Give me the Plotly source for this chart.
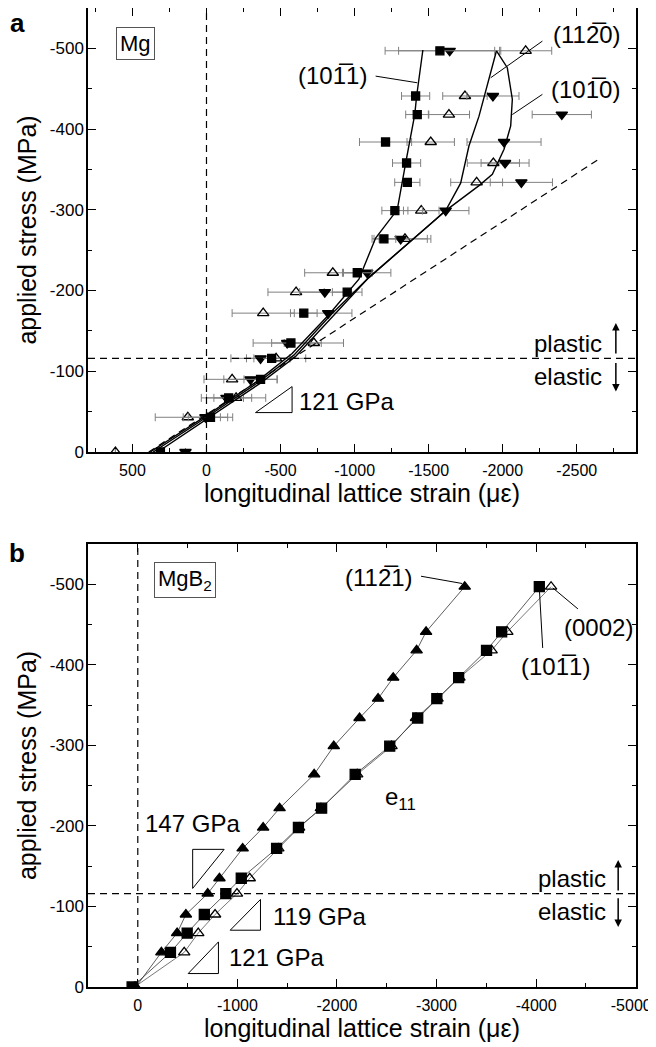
import plotly.graph_objects as go

# ---------------- data ----------------
STRESS = [0, -43, -67, -90, -116, -135, -172, -198, -222, -264, -299, -334, -358, -384, -418, -441, -497]

# panel a (Mg) lattice strains (micro-strain) and error bars
MG_1011_STRAIN = [311, -27, -150, -365, -440, -570, -657, -950, -1018, -1198, -1272, -1356, -1351, -1209, -1423, -1412, -1576]
MG_1011_ERR = [0, 150, 100, 112, 120, 130, 90, 100, 100, 80, 88, 85, 95, 176, 78, 95, 370]
MG_1120_STRAIN = [615, 126, -200, -173, -470, -725, -383, -605, -853, -1340, -1450, -1824, -1937, -1514, -1637, -1745, -2155]
MG_1120_ERR = [0, 220, 200, 190, 200, 200, 210, 190, 190, 175, 120, 175, 176, 160, 139, 150, 176]
MG_1010_STRAIN = [142, 7, -135, -297, -365, -545, -822, -799, -1085, -1311, -1615, -2126, -2016, -2009, -2399, -1934, -1642]
MG_1010_ERR = [0, 150, 170, 180, 200, 230, 160, 170, 160, 180, 157, 210, 162, 250, 200, 176, 345]

# model curves panel a
FIT_1011_STRAIN = [380, 0, -353, -578, -826, -1029, -1142, -1288, -1345, -1406, -1419, -1461]
FIT_1011_STRESS = [0, -45, -89, -122, -170, -214, -265, -300, -358, -418, -441, -498]
FIT_1120_STRAIN = [360, 0, -356, -590, -840, -1096, -1547, -1615, -1716, -1772, -1840, -1907, -1958]
FIT_1120_STRESS = [0, -43, -87, -120, -170, -216, -288, -299, -333, -379, -416, -464, -497]
FIT_1010_STRAIN = [330, 0, -362, -600, -850, -1096, -1547, -1615, -1840, -1930, -2009, -2054, -2065, -2031, -1958]
FIT_1010_STRESS = [0, -41, -85, -118, -168, -216, -288, -299, -330, -344, -375, -404, -437, -476, -497]
ELASTIC_A_STRAIN = [390, -2660]
ELASTIC_A_STRESS = [0, -364]

# panel b (MgB2)
MGB2_1121_STRAIN = [20, -237, -395, -483, -702, -820, -1053, -1259, -1424, -1771, -1968, -2227, -2413, -2565, -2800, -2895, -3283]
MGB2_1011_STRAIN = [57, -328, -496, -668, -884, -1039, -1394, -1613, -1846, -2183, -2530, -2811, -3003, -3222, -3502, -3654, -4032]
MGB2_0002_STRAIN = [33, -466, -607, -776, -996, -1124, -1411, -1620, -1839, -2203, -2548, -2794, -3010, -3230, -3553, -3711, -4150]

YIELD_STRESS = -116

# ticks
XA_TICKS = [500, 0, -500, -1000, -1500, -2000, -2500]
XB_TICKS = [0, -1000, -2000, -3000, -4000, -5000]
Y_TICKS = [0, -100, -200, -300, -400, -500]

def lab(v):
    return str(v)

FONT = "Liberation Sans, Arial, sans-serif"
BAR = "\u0305"

fig = go.Figure()

# ---- panel a traces ----
errc = "#808080"
for strain, err, sym, size in [
    (MG_1120_STRAIN, MG_1120_ERR, "triangle-up-open", 10),
    (MG_1010_STRAIN, MG_1010_ERR, "triangle-down", 10),
    (MG_1011_STRAIN, MG_1011_ERR, "square", 8),
]:
    fig.add_trace(go.Scatter(
        x=strain, y=STRESS, mode="markers", xaxis="x", yaxis="y",
        marker=dict(symbol=sym, size=size, color="black", line=dict(color="black", width=1.3)),
        error_x=dict(type="data", array=err, color=errc, thickness=1, width=4),
        showlegend=False))

for sx, sy in [(FIT_1011_STRAIN, FIT_1011_STRESS), (FIT_1120_STRAIN, FIT_1120_STRESS),
               (FIT_1010_STRAIN, FIT_1010_STRESS)]:
    fig.add_trace(go.Scatter(x=sx, y=sy, mode="lines", xaxis="x", yaxis="y",
                             line=dict(color="black", width=1.4), showlegend=False))
fig.add_trace(go.Scatter(x=ELASTIC_A_STRAIN, y=ELASTIC_A_STRESS, mode="lines", xaxis="x", yaxis="y",
                         line=dict(color="black", width=1.2, dash="7px,5px"), showlegend=False))

# ---- panel b traces ----
for strain, sym, lc in [
    (MGB2_0002_STRAIN, "triangle-up-open", "#555555"),
    (MGB2_1011_STRAIN, "square", "#333333"),
    (MGB2_1121_STRAIN, "triangle-up", "#333333"),
]:
    fig.add_trace(go.Scatter(
        x=strain, y=STRESS, mode="lines+markers", xaxis="x2", yaxis="y2",
        line=dict(color=lc, width=0.8),
        marker=dict(symbol=sym, size=10, color="black", line=dict(color="black", width=1.3)),
        showlegend=False))

# ---------------- layout ----------------
# the page body adds an 8px offset, so the figure is sized to fit the 656x1047 window
OFF = 8
W, H = 656 - OFF, 1047 - OFF
ML, MR, MT, MB = 80, 20, 0, 60
PW, PH = W - ML - MR, H - MT - MB

def paper(px, py):
    # px, py: window pixel position
    return (px - OFF - ML) / PW, (H - MB - (py - OFF)) / PH

axis_common = dict(
    showline=True, linecolor="black", linewidth=1.5, mirror="ticks",
    ticks="inside", ticklen=8, tickwidth=1.2, tickcolor="black",
    showgrid=False, zeroline=False, ticklabeloverflow="allow", automargin=False,
)
yfont = dict(family=FONT, size=17, color="black")
xfont = dict(family=FONT, size=16, color="black")
title_font = dict(family=FONT, size=25, color="black")

# last label of panel b padded so it stays inside the window edge
xb_text = [lab(v) for v in XB_TICKS]
xb_text[-1] = xb_text[-1] + "\u00a0\u00a0"

fig.update_layout(
    width=W, height=H, margin=dict(l=ML, r=MR, t=MT, b=MB, autoexpand=False),
    paper_bgcolor="white", plot_bgcolor="white", showlegend=False,
    xaxis=dict(domain=[0, 1], anchor="y", range=[800, -2900], tickmode="array",
               tickvals=XA_TICKS, ticktext=[lab(v) for v in XA_TICKS], tickfont=xfont,
               minor=dict(ticks="inside", ticklen=4, tickcolor="black",
                          tickvals=list(range(750, -2901, -250))),
               ticklabelstandoff=3,
               title=dict(text="longitudinal lattice strain (\u03bc\u03b5)", font=title_font, standoff=0),
               **axis_common),
    yaxis=dict(domain=[0.5465, 1], anchor="x", range=[0, -550], tickmode="array",
               tickvals=Y_TICKS, ticktext=[lab(v) for v in Y_TICKS], tickfont=yfont,
               minor=dict(ticks="inside", ticklen=4, tickcolor="black",
                          tickvals=list(range(0, -551, -50))),
               ticklabelstandoff=-1,
               title=dict(text="applied stress (MPa)", font=title_font, standoff=6),
               **axis_common),
    xaxis2=dict(domain=[0, 1], anchor="y2", range=[500, -5003], tickmode="array",
                tickvals=XB_TICKS, ticktext=xb_text, tickfont=xfont,
                minor=dict(ticks="inside", ticklen=4, tickcolor="black",
                           tickvals=list(range(500, -5001, -500))),
                ticklabelstandoff=3,
                title=dict(text="longitudinal lattice strain (\u03bc\u03b5)", font=title_font, standoff=0),
                **axis_common),
    yaxis2=dict(domain=[0, 0.4525], anchor="x2", range=[0, -550], tickmode="array",
                tickvals=Y_TICKS, ticktext=[lab(v) for v in Y_TICKS], tickfont=yfont,
                minor=dict(ticks="inside", ticklen=4, tickcolor="black",
                           tickvals=list(range(0, -551, -50))),
                ticklabelstandoff=-1,
                title=dict(text="applied stress (MPa)", font=title_font, standoff=6),
                **axis_common),
)

shapes = []
dash = "7px,5px"
for xa, ya in [("x", "y"), ("x2", "y2")]:
    shapes.append(dict(type="line", xref=xa, yref=ya + " domain", x0=0, x1=0, y0=0, y1=1,
                       line=dict(color="black", width=1.2, dash=dash)))
    shapes.append(dict(type="line", xref=xa + " domain", yref=ya, x0=0, x1=1,
                       y0=YIELD_STRESS, y1=YIELD_STRESS,
                       line=dict(color="black", width=1.2, dash=dash)))

def seg(xa, ya, x0, y0, x1, y1):
    shapes.append(dict(type="line", xref=xa, yref=ya, x0=x0, y0=y0, x1=x1, y1=y1,
                       line=dict(color="black", width=1)))

def tri(xa, ya, pts):
    p = "M " + " L ".join(f"{a},{b}" for a, b in pts) + " Z"
    shapes.append(dict(type="path", xref=xa, yref=ya, path=p, line=dict(color="black", width=1)))

# panel a pointers
seg("x", "y", -1142, -465.6, -1423, -457.4)
seg("x", "y", -2268, -509, -1919, -463.6)
seg("x", "y", -2268, -443, -2065, -418)
tri("x", "y", [(-331, -48.8), (-578, -48.8), (-578, -81)])
# panel b pointers
seg("x2", "y2", -2844, -510, -3256, -501)
seg("x2", "y2", -4420, -469.4, -4167, -495.5)
seg("x2", "y2", -4066, -420.9, -4032, -495.5)
tri("x2", "y2", [(-551, -170.9), (-867, -170.9), (-551, -122.4)])
tri("x2", "y2", [(-928, -70.5), (-1232, -70.5), (-1232, -108.7)])
tri("x2", "y2", [(-506, -16.7), (-810, -16.7), (-810, -56)])

fig.update_layout(shapes=shapes)

ann = []
def txt(xa, ya, x, y, t, size=24, xanchor="left", **kw):
    ann.append(dict(xref=xa, yref=ya, x=x, y=y, text=t, showarrow=False, xanchor=xanchor,
                    yanchor="middle", font=dict(family=FONT, size=size, color="black"), **kw))

def arrow(xa, ya, x, y0, y1):
    ann.append(dict(xref=xa, yref=ya, axref=xa, ayref=ya, x=x, y=y1, ax=x, ay=y0, text="",
                    showarrow=True, arrowhead=2, arrowsize=1, arrowwidth=1.5, arrowcolor="black"))

# panel a texts
txt("x", "y", 478, -505.6, "Mg", size=22, xanchor="center", bordercolor="#555555",
    borderwidth=1, borderpad=3)
txt("x", "y", -1097, -466.5, "(10" + "1" + BAR + "1)", xanchor="right")
txt("x", "y", -2324, -517, "(11" + "2" + BAR + "0)")
txt("x", "y", -2313, -449, "(10" + "1" + BAR + "0)")
txt("x", "y", -612, -62.4, "121 GPa")
txt("x", "y", -2684, -134.9, "plastic", xanchor="right")
txt("x", "y", -2684, -93.4, "elastic", xanchor="right")
arrow("x", "y", -2764, -120, -159.7)
arrow("x", "y", -2764, -112, -74.8)

# panel b texts
txt("x2", "y2", -476, -505.2, "MgB<sub>2</sub>", size=22, xanchor="center", bordercolor="#555555",
    borderwidth=1, borderpad=3)
txt("x2", "y2", -2783, -508, "(11" + "2" + BAR + "1)", xanchor="right")
txt("x2", "y2", -4261, -445.8, "(0002)")
txt("x2", "y2", -3830, -398, "(10" + "1" + BAR + "1)")
txt("x2", "y2", -2464, -234.3, "e<sub>11</sub>")
txt("x2", "y2", -51, -203.2, "147 GPa")
txt("x2", "y2", -1340, -87, "119 GPa")
txt("x2", "y2", -895, -36.6, "121 GPa")
txt("x2", "y2", -4724, -134.8, "plastic", xanchor="right")
txt("x2", "y2", -4724, -93.3, "elastic", xanchor="right")
arrow("x2", "y2", -4824, -118, -157.6)
arrow("x2", "y2", -4824, -112, -74.6)

# panel letters (window pixel positions)
for letter, (px, py) in [("a", (8, 23)), ("b", (7, 553))]:
    x, y = paper(px, py)
    ann.append(dict(xref="paper", yref="paper", x=x, y=y, text="<b>" + letter + "</b>",
                    showarrow=False, xanchor="left", yanchor="middle",
                    font=dict(family=FONT, size=26, color="black")))

fig.update_layout(annotations=ann)

fig.write_html("out.html")
